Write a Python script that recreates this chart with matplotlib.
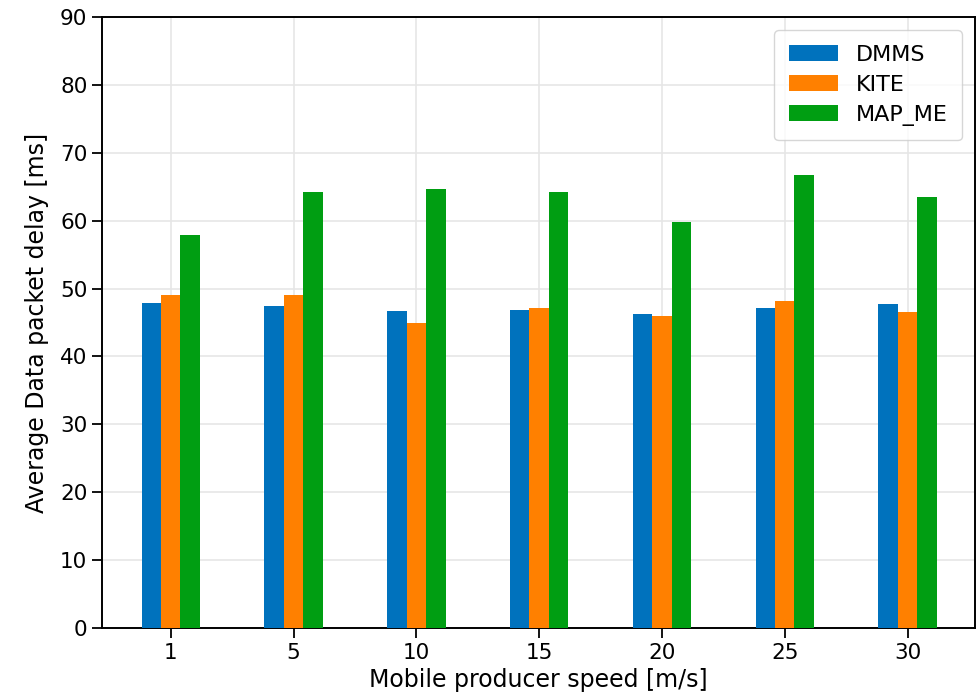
import matplotlib
matplotlib.use("Agg")
from matplotlib import pyplot as plt
import numpy as np

speeds = ["1", "5", "10", "15", "20", "25", "30"]
dmms = [47.9, 47.4, 46.7, 46.9, 46.2, 47.1, 47.7]
kite = [49.1, 49.1, 45.0, 47.1, 45.9, 48.1, 46.5]
map_me = [57.9, 64.2, 64.7, 64.2, 59.8, 66.7, 63.5]

series = [("DMMS", dmms, "#0072bd"), ("KITE", kite, "#ff8000"), ("MAP_ME", map_me, "#009e12")]

fig = plt.figure(figsize=(9.78, 6.99), dpi=100)
ax = fig.add_axes([0.1043, 0.1016, 0.8927, 0.874])

x = np.arange(len(speeds))
w = 0.475 / 3
for i, (name, vals, col) in enumerate(series):
    ax.bar(x + (i - 1) * w, vals, w, color=col, label=name, zorder=3)

ax.set_xlim(-0.56, len(speeds) - 0.45)
ax.set_ylim(0, 90)
ax.set_yticks(range(0, 91, 10))
ax.set_xticks(x)
ax.set_xticklabels(speeds)
ax.tick_params(labelsize=15.5, length=7, width=1.3)
ax.grid(True, color="#e6e6e6", linewidth=1.2, zorder=0)
for s in ax.spines.values():
    s.set_linewidth(1.4)

ax.set_xlabel("Mobile producer speed [m/s]", fontsize=17, labelpad=4)
ax.set_ylabel("Average Data packet delay [ms]", fontsize=17, labelpad=8)
ax.legend(loc="upper right", fontsize=16, handlelength=2.2, borderpad=0.65,
          labelspacing=0.45, borderaxespad=0.6)

fig.savefig("out.png", dpi=100)
